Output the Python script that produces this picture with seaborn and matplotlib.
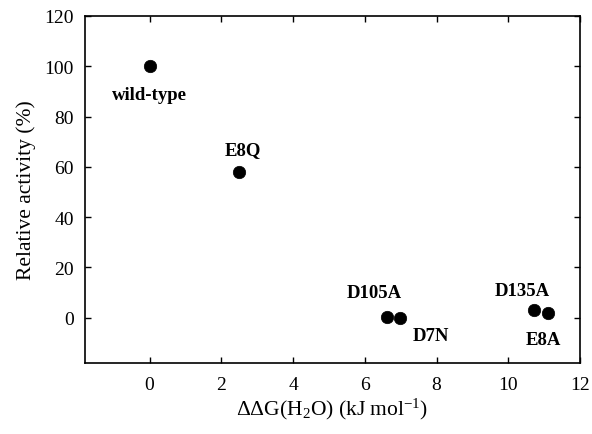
import matplotlib
matplotlib.use("Agg")
import matplotlib.pyplot as plt
import seaborn as sns
import pandas as pd

# data
mutants = ["wild-type", "E8Q", "D105A", "D7N", "D135A", "E8A"]
ddG = [0.0, 2.49, 6.62, 6.97, 10.73, 11.1]
activity = [100.0, 58.0, 0.3, 0.0, 3.0, 1.9]

# label placement (data coordinates for label text)
label_x = [0.0, 2.59, 6.27, 7.84, 10.38, 10.97]
label_y = [88.6, 67.0, 10.2, -6.9, 11.0, -8.5]

df = pd.DataFrame({"ddG": ddG, "activity": activity, "mutant": mutants})

sns.set_style("ticks")
plt.rcParams["font.family"] = ["Liberation Serif", "DejaVu Serif"]
plt.rcParams["mathtext.fontset"] = "custom"
plt.rcParams["mathtext.rm"] = "Liberation Serif"
plt.rcParams["mathtext.it"] = "Liberation Serif:italic"
for key in ["text.color", "axes.labelcolor", "xtick.color", "ytick.color",
            "axes.edgecolor"]:
    plt.rcParams[key] = "black"

fig = plt.figure(figsize=(5.92, 4.35), dpi=100)
ax = fig.add_axes([85/592, 1-364/435, (580-85)/592, (364-17)/435])

sns.scatterplot(data=df, x="ddG", y="activity", ax=ax, color="black",
                s=80, edgecolor="black", linewidth=0.5, zorder=3, legend=False)

for name, lx, ly in zip(mutants, label_x, label_y):
    ax.text(lx, ly, name, ha="center", va="center", fontsize=13.5,
            fontweight="bold", color="black")

ax.set_xlim(-1.8, 12)
ax.set_ylim(-18, 120)
ax.set_xticks([0, 2, 4, 6, 8, 10, 12])
ax.set_yticks([0, 20, 40, 60, 80, 100, 120])
ax.tick_params(direction="in", top=True, right=True, labelsize=14, length=4,
               width=1)
ax.tick_params(axis="x", pad=9)
ax.tick_params(axis="y", pad=8)
for sp in ax.spines.values():
    sp.set_linewidth(1.2)
    sp.set_color("black")

ax.set_xlabel(r"ΔΔG(H$_{\mathregular{2}}$O) (kJ mol$^{\mathregular{-1}}$)", fontsize=15.5, labelpad=2)
ax.set_ylabel("Relative activity (%)", fontsize=15.5, labelpad=6)

fig.savefig("out.png", dpi=100)
